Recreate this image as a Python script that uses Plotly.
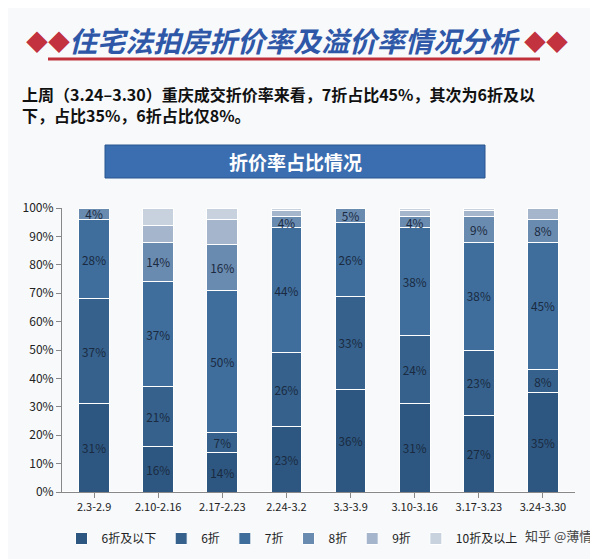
import plotly.graph_objects as go

categories = ["2.3-2.9", "2.10-2.16", "2.17-2.23", "2.24-3.2", "3.3-3.9", "3.10-3.16", "3.17-3.23", "3.24-3.30"]
s_le6 = [31, 16, 14, 23, 36, 31, 27, 35]
s_6 = [37, 21, 7, 26, 33, 24, 23, 8]
s_7 = [28, 37, 50, 44, 26, 38, 38, 45]
s_8 = [4, 14, 16, 4, 5, 4, 9, 8]
s_9 = [0, 6, 9, 2, 0, 2, 2, 4]
s_10 = [0, 6, 4, 1, 0, 1, 1, 0]
names = ["6折及以下", "6折", "7折", "8折", "9折", "10折及以上"]
colors = ["#2d5780", "#35618c", "#3f6e9d", "#6a8bb0", "#a5b6cc", "#c8d2df"]
series = [s_le6, s_6, s_7, s_8, s_9, s_10]
tick_vals = [0, 10, 20, 30, 40, 50, 60, 70, 80, 90, 100]

OFF = 8  # page body margin
def py(p):  # reference pixel from top -> paper y
    return (492 - p) / 284

def px(p):
    return (p - 62) / 513

fig = go.Figure()
for i, (n, c, s) in enumerate(zip(names, colors, series)):
    fig.add_bar(x=categories, y=s, name=n, marker=dict(color=c, line=dict(color="white", width=1)),
                text=[f"{v}%" if i < 4 else "" for v in s], textposition="inside",
                insidetextanchor="middle", textfont=dict(color="#1a2a40", size=12, family="Noto Sans CJK SC"),
                textangle=0, width=0.48)

fig.update_layout(
    width=598 - OFF, height=559 - OFF, barmode="stack",
    paper_bgcolor="#f7f9fb", plot_bgcolor="rgba(0,0,0,0)",
    margin=dict(l=62 - OFF, r=23, t=208 - OFF, b=67, autoexpand=False),
    uniformtext=dict(minsize=11, mode="show"),
    font=dict(family="Noto Sans CJK SC", color="#222", size=12),
    xaxis=dict(showline=True, linecolor="#888", ticks="outside", tickcolor="#888", ticklen=5,
               tickfont=dict(size=11)),
    yaxis=dict(range=[0, 100], tickvals=tick_vals, ticktext=[f"{v}%" for v in tick_vals],
               showgrid=False, showline=True, linecolor="#888", ticks="outside", tickcolor="#888",
               tickfont=dict(size=12)),
    legend=dict(orientation="h", x=px(292), xanchor="center", y=py(524), yanchor="top",
                font=dict(size=12), traceorder="normal", itemwidth=30),
)
fig.add_shape(type="line", xref="paper", yref="paper", x0=px(48), x1=px(540), y0=py(59), y1=py(59),
              line=dict(color="#c0303a", width=3))
fig.add_annotation(xref="paper", yref="paper", x=px(294), y=py(40), yanchor="middle", showarrow=False,
                   text="<b><i>住宅法拍房折价率及溢价率情况分析</i></b>",
                   font=dict(size=28, color="#2e57a8"))
fig.add_annotation(xref="paper", yref="paper", x=px(24), y=py(40), yanchor="middle", showarrow=False,
                   text="◆◆", font=dict(size=22, color="#c2323f"))
fig.add_annotation(xref="paper", yref="paper", x=px(570), y=py(40), yanchor="middle", showarrow=False,
                   text="◆◆", font=dict(size=22, color="#c2323f"))
fig.add_annotation(xref="paper", yref="paper", x=px(20), y=py(80), xanchor="left", yanchor="top",
                   showarrow=False, align="left",
                   text="<b>上周（3.24–3.30）重庆成交折价率来看，7折占比45%，其次为6折及以<br>下，占比35%，6折占比仅8%。</b>",
                   font=dict(size=16, color="#111"))
fig.add_shape(type="rect", xref="paper", yref="paper", x0=px(105), x1=px(485), y0=py(178), y1=py(145),
              fillcolor="#3b6eb0", line=dict(color="#2a5590", width=1), layer="below")
fig.add_annotation(xref="paper", yref="paper", x=px(295), y=py(161), yanchor="middle", showarrow=False,
                   text="<b>折价率占比情况</b>", font=dict(size=19, color="white"))
fig.add_annotation(xref="paper", yref="paper", x=px(594), y=py(535), xanchor="right", yanchor="middle",
                   showarrow=False, text="知乎 @薄情", font=dict(size=13, color="#444"))
fig.write_html("out.html")
